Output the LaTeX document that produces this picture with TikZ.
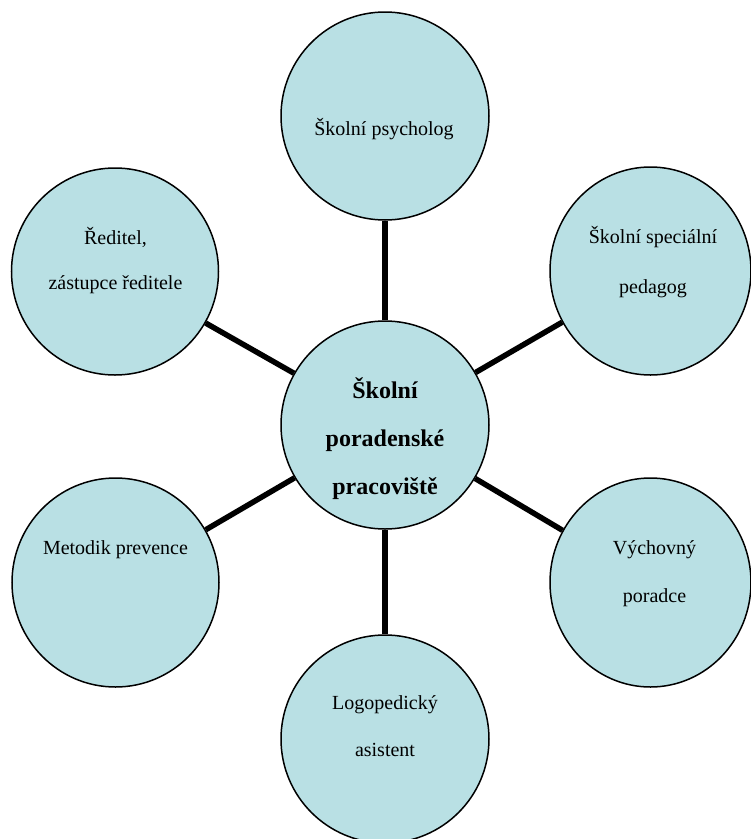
\documentclass[tikz,border=0pt]{standalone}
\usepackage{fontspec}
\setmainfont{Liberation Serif}
\usetikzlibrary{shapes.geometric}
\definecolor{bubble}{RGB}{185,224,228}
\tikzset{
  bub/.style={ellipse, draw=black, line width=1.5pt, fill=bubble, inner sep=0pt},
  link/.style={line width=5.5pt, line cap=butt},
  lbl/.style={anchor=base, inner sep=0pt, font=\fontsize{20}{47}\selectfont},
  hub/.style={anchor=base, inner sep=0pt, font=\fontsize{24}{48}\selectfont\bfseries}
}
\newcommand{\lines}[1]{\begin{tabular}[t]{@{}c@{}}#1\end{tabular}}
\begin{document}
\begin{tikzpicture}[x=1pt, y=-1pt]
\useasboundingbox (0,0) rectangle (751,839);
\begin{scope}
\clip (0,0) rectangle (751,839);
% bubbles
\node[bub, minimum width=208pt, minimum height=208pt] (C) at (385,425) {};
\node[bub, minimum width=208pt, minimum height=208pt] (psy) at (385,116) {};
\node[bub, minimum width=207pt, minimum height=207pt] (red) at (115,271.5) {};
\node[bub, minimum width=201pt, minimum height=208pt] (spec) at (650.5,271) {};
\node[bub, minimum width=207pt, minimum height=209pt] (met) at (115.5,582.5) {};
\node[bub, minimum width=201pt, minimum height=209pt] (vych) at (650.5,582.5) {};
\node[bub, minimum width=208pt, minimum height=208pt] (logo) at (385,739) {};
% connectors
\draw[link] (C) -- (psy);
\draw[link] (C) -- (red);
\draw[link] (C) -- (spec);
\draw[link] (C) -- (met);
\draw[link] (C) -- (vych);
\draw[link] (C) -- (logo);
% redraw bubbles' borders over connector ends
\end{scope}
% texts
\node[hub] (tC) at (385,398) {\lines{Školní\\poradenské\\pracoviště}};
\node[lbl] (tpsy) at (384,135) {Školní psycholog};
\node[lbl, font=\fontsize{20}{45}\selectfont] (tred) at (115.5,244) {\lines{Ředitel,\\zástupce ředitele}};
\node[lbl, font=\fontsize{20}{50}\selectfont] (tspec) at (653,243) {\lines{Školní speciální\\pedagog}};
\node[lbl] (tmet) at (115.5,554) {Metodik prevence};
\node[lbl, font=\fontsize{20}{48}\selectfont] (tvych) at (654.5,554) {\lines{Výchovný\\poradce}};
\node[lbl] (tlogo) at (385,709) {\lines{Logopedický\\asistent}};
\end{tikzpicture}
\end{document}
